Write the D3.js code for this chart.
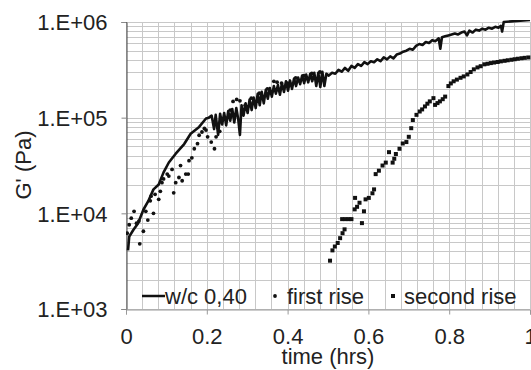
<!DOCTYPE html>
<html>
<head>
<meta charset="utf-8">
<script src="https://cdn.jsdelivr.net/npm/d3@7"></script>
<style>
  body { margin: 0; background: #fff; }
  text { font-family: "Liberation Sans", Arial, sans-serif; fill: #222; }
</style>
</head>
<body>
<div id="chart-area"></div>
<script>
// w/c 0,40 line (time in hrs, G' in Pa)
var lineT = [0.005, 0.008, 0.018, 0.030, 0.043, 0.055, 0.068, 0.081, 0.093, 0.106, 0.123, 0.144, 0.160, 0.181, 0.198,
    0.205, 0.212, 0.218, 0.222, 0.228, 0.233, 0.238, 0.243, 0.248, 0.253, 0.258, 0.263, 0.268, 0.273, 0.278, 0.282,
    0.286, 0.291, 0.296, 0.301, 0.306, 0.311, 0.316, 0.321, 0.326, 0.331, 0.336, 0.341, 0.346, 0.351, 0.356, 0.361,
    0.366, 0.371, 0.376, 0.381, 0.386, 0.391, 0.396, 0.401, 0.406, 0.411, 0.416, 0.421, 0.426, 0.431, 0.436, 0.441,
    0.446, 0.451, 0.456, 0.461, 0.466, 0.471, 0.476, 0.481, 0.486, 0.491, 0.496, 0.502, 0.510, 0.518, 0.526, 0.534,
    0.542, 0.550, 0.558, 0.566, 0.574, 0.582, 0.590, 0.598, 0.606, 0.614, 0.622, 0.630, 0.638, 0.646, 0.654, 0.662,
    0.670, 0.678, 0.686, 0.694, 0.702, 0.710, 0.718, 0.726, 0.734, 0.742, 0.750, 0.758, 0.766, 0.774, 0.778, 0.782,
    0.790, 0.798, 0.806, 0.814, 0.822, 0.830, 0.838, 0.844, 0.850, 0.858, 0.866, 0.874, 0.882, 0.890, 0.898, 0.906,
    0.914, 0.922, 0.928, 0.931, 0.935, 0.960, 1.000];
var lineG = [4100, 5700, 6700, 7900, 10900, 13400, 17800, 20000, 26800, 34000, 42000, 53000, 68000, 80000, 98000,
    100000, 105000, 76000, 107000, 66000, 110000, 85000, 112000, 83000, 117000, 93000, 123000, 89000, 126000, 95000, 66000,
    135000, 105000, 141000, 112000, 155000, 120000, 162000, 126000, 178000, 135000, 186000, 141000, 195000, 158000, 204000, 166000,
    214000, 178000, 219000, 174000, 229000, 186000, 240000, 191000, 245000, 200000, 257000, 214000, 263000, 224000, 275000, 229000,
    282000, 234000, 288000, 240000, 295000, 214000, 295000, 209000, 302000, 214000, 288000, 275000, 295000, 288000, 316000, 302000,
    331000, 309000, 347000, 331000, 363000, 347000, 380000, 363000, 389000, 380000, 407000, 389000, 427000, 407000, 437000, 417000,
    457000, 468000, 490000, 501000, 525000, 513000, 562000, 589000, 575000, 617000, 603000, 646000, 631000, 676000, 525000, 692000,
    708000, 724000, 741000, 759000, 741000, 776000, 794000, 724000, 813000, 776000, 832000, 813000, 851000, 832000, 871000, 851000,
    891000, 871000, 912000, 794000, 1000000, 1020000, 1050000];

// first rise (dots)
var firstT = [0.003, 0.008, 0.013, 0.020, 0.026, 0.032, 0.034, 0.043, 0.049, 0.054, 0.060, 0.062, 0.068, 0.072, 0.081,
    0.085, 0.089, 0.093, 0.102, 0.106, 0.114, 0.118, 0.123, 0.131, 0.135, 0.139, 0.148, 0.154, 0.156, 0.163, 0.169,
    0.177, 0.181, 0.188, 0.194, 0.198, 0.202, 0.211, 0.219, 0.223, 0.232, 0.245, 0.258, 0.265, 0.274, 0.282, 0.295,
    0.310, 0.330, 0.350, 0.366, 0.374, 0.385, 0.400, 0.420, 0.440, 0.460, 0.480];
var firstG = [6200, 7600, 8900, 10500, 7900, 8300, 4800, 6500, 10500, 8500, 13500, 15100, 10000, 15800, 14000,
    17000, 20900, 22900, 25700, 24500, 28800, 16400, 20900, 23700, 31600, 21900, 25700, 25700, 35500, 38000, 47300,
    53500, 65500, 70800, 77100, 74100, 63100, 55600, 47300, 63100, 72000, 100000, 120000, 148000, 155000, 150000, 135000,
    160000, 180000, 200000, 240000, 235000, 230000, 230000, 260000, 275000, 290000, 300000];

// second rise (squares)
var secondT = [0.505, 0.511, 0.517, 0.524, 0.530, 0.536, 0.541, 0.535, 0.543, 0.551, 0.558, 0.566, 0.572, 0.567, 0.578,
    0.584, 0.589, 0.593, 0.601, 0.610, 0.614, 0.618, 0.626, 0.635, 0.643, 0.651, 0.660, 0.664, 0.668, 0.677, 0.685,
    0.694, 0.700, 0.706, 0.710, 0.719, 0.727, 0.733, 0.740, 0.746, 0.752, 0.761, 0.765, 0.771, 0.777, 0.784, 0.790,
    0.798, 0.804, 0.811, 0.819, 0.828, 0.836, 0.845, 0.853, 0.861, 0.870, 0.878, 0.887, 0.895, 0.903, 0.911, 0.920,
    0.928, 0.937, 0.945, 0.954, 0.962, 0.970, 0.979, 0.987, 0.996];
var secondG = [3200, 4100, 4500, 4900, 5500, 6200, 6800, 8700, 8700, 8700, 8700, 11000, 11700, 14500, 12900,
    7900, 10500, 14000, 14500, 16200, 17800, 25700, 27900, 31600, 33900, 43600, 33900, 37200, 41700, 47300, 53700,
    55600, 63100, 77600, 94400, 107000, 116000, 122000, 131000, 140000, 148000, 160000, 136000, 142000, 148000, 156000, 166000,
    214000, 228000, 240000, 250000, 261000, 270000, 283000, 300000, 320000, 335000, 345000, 361000, 366000, 372000, 377000, 382000,
    388000, 393000, 398000, 403000, 408000, 413000, 418000, 422000, 426000];

var yTicks = [1e3, 1e4, 1e5, 1e6];
var xTicks = [0, 0.2, 0.4, 0.6, 0.8, 1];

var W = 531, H = 370;
var pLeft = 126, pRight = 530, pTop = 22, pBottom = 309;
var fs = "22px";

var svg = d3.select("#chart-area").append("svg")
    .attr("width", W)
    .attr("height", H);

var x = d3.scaleLinear().domain([0, 1]).range([pLeft, pRight]);
var y = d3.scaleLog().domain([1e3, 1e6]).range([pBottom, pTop]);

// minor grid values
var yMinor = [];
[1e3, 1e4, 1e5].forEach(d => { for (var k = 1; k <= 10; k++) yMinor.push(d * k); });
var xMinor = d3.range(0, 1.0001, 0.04);

var grid = svg.append("g").attr("stroke", "#c8c8c8").attr("stroke-width", 1);
grid.selectAll(".hx").data(yMinor).enter().append("line")
    .attr("x1", pLeft).attr("x2", pRight)
    .attr("y1", d => Math.round(y(d)) + 0.5).attr("y2", d => Math.round(y(d)) + 0.5);
grid.selectAll(".vx").data(xMinor).enter().append("line")
    .attr("y1", pTop).attr("y2", pBottom)
    .attr("x1", d => Math.round(x(d)) + 0.5).attr("x2", d => Math.round(x(d)) + 0.5);

// axes
var yAxis = d3.axisLeft(y).tickValues(yTicks).tickSize(5).tickPadding(14)
    .tickFormat(d => "1.E+0" + Math.round(Math.log10(d)));
var gy = svg.append("g").attr("transform", "translate(" + (pLeft + 0.5) + ",0)").call(yAxis);
gy.select(".domain").attr("stroke", "#444");
gy.selectAll(".tick line").attr("stroke", "#888");
gy.selectAll("text").style("font-size", fs).style("font-family", "'Liberation Sans', Arial, sans-serif")
    .attr("fill", "#222").attr("dy", "0.36em");

var xAxis = d3.axisBottom(x).tickValues(xTicks).tickSize(5).tickPadding(15)
    .tickFormat(d => d === 0 ? "0" : d === 1 ? "1" : d3.format(".1f")(d));
var gx = svg.append("g").attr("transform", "translate(0," + (pBottom + 0.5) + ")").call(xAxis);
gx.select(".domain").attr("stroke", "#999");
gx.selectAll(".tick line").attr("stroke", "#999");
gx.selectAll("text").style("font-size", fs).style("font-family", "'Liberation Sans', Arial, sans-serif")
    .attr("fill", "#222").attr("dy", "0.68em");

// clip
svg.append("clipPath").attr("id", "clip").append("rect")
    .attr("x", pLeft).attr("y", pTop - 2).attr("width", pRight - pLeft + 2).attr("height", pBottom - pTop + 2);
var plot = svg.append("g").attr("clip-path", "url(#clip)");

var lineData = lineT.map((t, i) => [t, lineG[i]]);
plot.append("path")
    .datum(lineData)
    .attr("fill", "none")
    .attr("stroke", "#111")
    .attr("stroke-width", 2.6)
    .attr("stroke-linejoin", "round")
    .attr("d", d3.line().x(d => x(d[0])).y(d => y(d[1])));

plot.selectAll(".first")
    .data(firstT.map((t, i) => [t, firstG[i]]))
    .enter().append("circle")
    .attr("cx", d => x(d[0])).attr("cy", d => y(d[1]))
    .attr("r", 1.9).attr("fill", "#111");

plot.selectAll(".second")
    .data(secondT.map((t, i) => [t, secondG[i]]))
    .enter().append("rect")
    .attr("x", d => x(d[0]) - 2).attr("y", d => y(d[1]) - 2)
    .attr("width", 4).attr("height", 4).attr("fill", "#111");

// legend
var lg = svg.append("g");
lg.append("line").attr("x1", 142).attr("x2", 165).attr("y1", 296).attr("y2", 296)
    .attr("stroke", "#111").attr("stroke-width", 2.5);
lg.append("text").attr("x", 165).attr("y", 304).style("font-size", fs).text("w/c 0,40");
lg.append("circle").attr("cx", 275).attr("cy", 296).attr("r", 1.9).attr("fill", "#111");
lg.append("text").attr("x", 287).attr("y", 304).style("font-size", fs).text("first rise");
lg.append("rect").attr("x", 391).attr("y", 294).attr("width", 4).attr("height", 4).attr("fill", "#111");
lg.append("text").attr("x", 404).attr("y", 304).style("font-size", fs).text("second rise");

// axis titles
svg.append("text").attr("x", 328).attr("y", 364).attr("text-anchor", "middle")
    .style("font-size", fs).text("time (hrs)");
svg.append("text").attr("transform", "translate(31,165) rotate(-90)").attr("text-anchor", "middle")
    .style("font-size", fs).text("G' (Pa)");
</script>
</body>
</html>
